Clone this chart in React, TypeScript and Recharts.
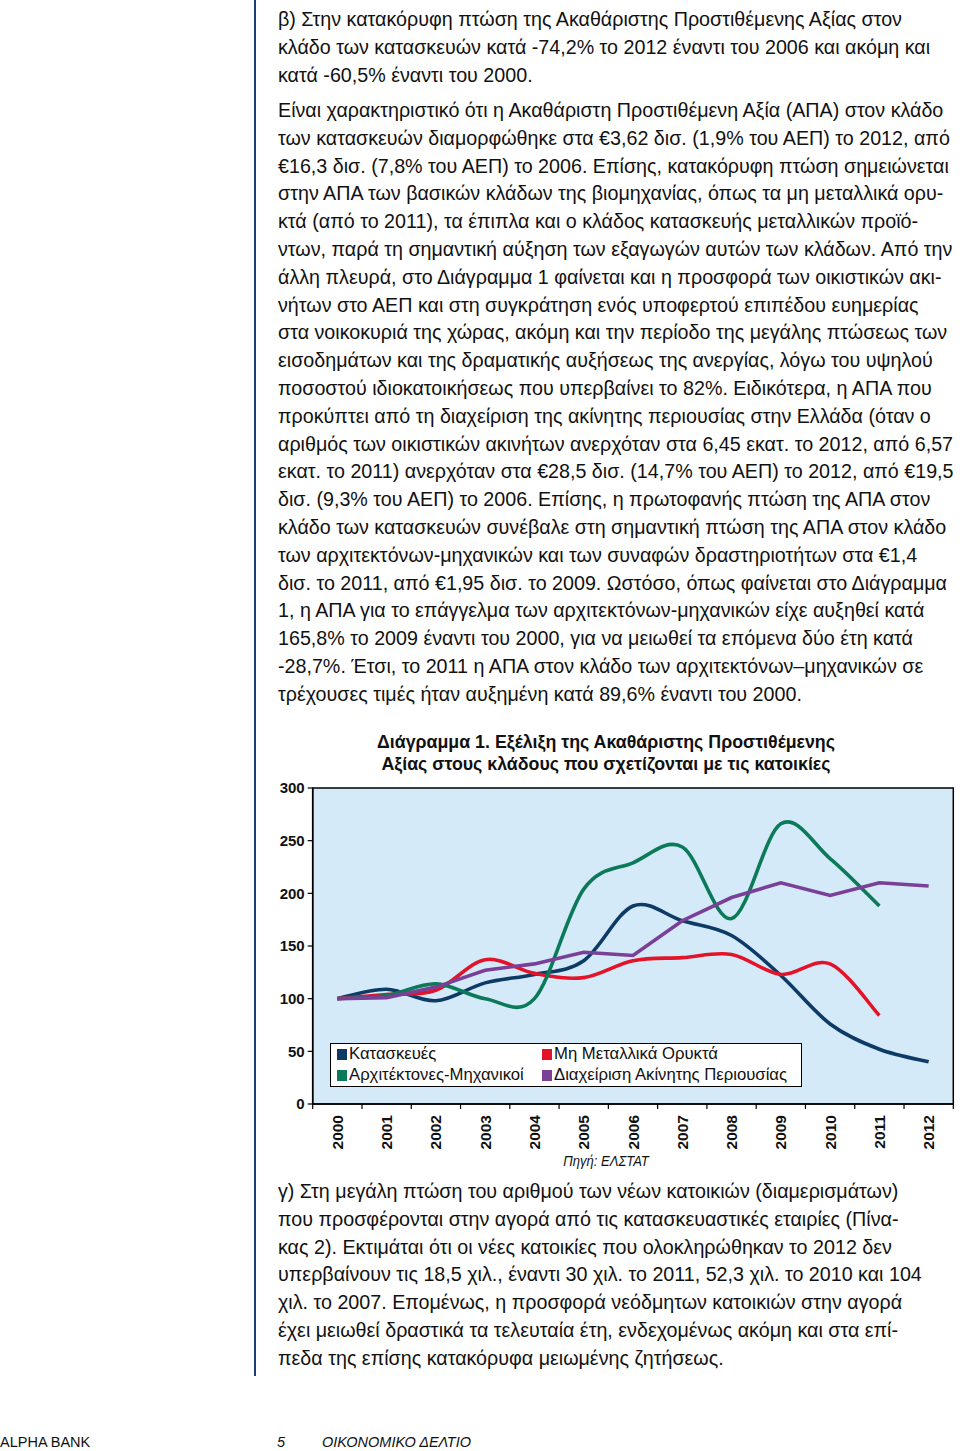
import React from 'react';
import { LineChart, Line, XAxis, YAxis, CartesianGrid, ReferenceArea, Legend } from 'recharts';

// ---------- chart data ----------
const years = ['2000', '2001', '2002', '2003', '2004', '2005', '2006', '2007', '2008', '2009', '2010', '2011', '2012'];
const construction = [100, 109, 98, 115, 123, 136, 188, 174, 160, 122, 76, 52, 40];
const nonMetallic = [100, 104, 108, 137, 124, 120, 136, 139, 142, 123, 133, 84, null];
const architects = [100, 103, 114, 100, 100, 204, 229, 244, 176, 266, 233, 188, null];
const realEstate = [100, 101, 111, 127, 133, 144, 141, 174, 196, 210, 198, 210, 207];
const yTicks = [0, 50, 100, 150, 200, 250, 300];
const seriesNames = ['Κατασκευές', 'Μη Μεταλλικά Ορυκτά', 'Αρχιτέκτονες-Μηχανικοί', 'Διαχείριση Ακίνητης Περιουσίας'];
const seriesKeys = ['kat', 'mm', 'arx', 'dia'];
const seriesColors = ['#0d3b66', '#e3142a', '#0b7a58', '#7a3f96'];

const chartTitle = ['Διάγραμμα 1. Εξέλιξη της Ακαθάριστης Προστιθέμενης', 'Αξίας στους κλάδους που σχετίζονται με τις κατοικίες'];
const sourceText = 'Πηγή: ΕΛΣΤΑΤ';

// ---------- page text ----------
const para1 = [
  'β) Στην κατακόρυφη πτώση της Ακαθάριστης Προστιθέμενης Αξίας στον',
  'κλάδο των κατασκευών κατά -74,2% το 2012 έναντι του 2006 και ακόμη και',
  'κατά -60,5% έναντι του 2000.',
];
const para2 = [
  'Είναι χαρακτηριστικό ότι η Ακαθάριστη Προστιθέμενη Αξία (ΑΠΑ) στον κλάδο',
  'των κατασκευών διαμορφώθηκε στα €3,62 δισ. (1,9% του ΑΕΠ) το 2012, από',
  '€16,3 δισ. (7,8% του ΑΕΠ) το 2006. Επίσης, κατακόρυφη πτώση σημειώνεται',
  'στην ΑΠΑ των βασικών κλάδων της βιομηχανίας, όπως τα μη μεταλλικά ορυ-',
  'κτά (από το 2011), τα έπιπλα και ο κλάδος κατασκευής μεταλλικών προϊό-',
  'ντων, παρά τη σημαντική αύξηση των εξαγωγών αυτών των κλάδων. Από την',
  'άλλη πλευρά, στο Διάγραμμα 1 φαίνεται και η προσφορά των οικιστικών ακι-',
  'νήτων στο ΑΕΠ και στη συγκράτηση ενός υποφερτού επιπέδου ευημερίας',
  'στα νοικοκυριά της χώρας, ακόμη και την περίοδο της μεγάλης πτώσεως των',
  'εισοδημάτων και της δραματικής αυξήσεως της ανεργίας, λόγω του υψηλού',
  'ποσοστού ιδιοκατοικήσεως που υπερβαίνει το 82%. Ειδικότερα, η ΑΠΑ που',
  'προκύπτει από τη διαχείριση της ακίνητης περιουσίας στην Ελλάδα (όταν ο',
  'αριθμός των οικιστικών ακινήτων ανερχόταν στα 6,45 εκατ. το 2012, από 6,57',
  'εκατ. το 2011) ανερχόταν στα €28,5 δισ. (14,7% του ΑΕΠ) το 2012, από €19,5',
  'δισ. (9,3% του ΑΕΠ) το 2006. Επίσης, η πρωτοφανής πτώση της ΑΠΑ στον',
  'κλάδο των κατασκευών συνέβαλε στη σημαντική πτώση της ΑΠΑ στον κλάδο',
  'των αρχιτεκτόνων-μηχανικών και των συναφών δραστηριοτήτων στα €1,4',
  'δισ. το 2011, από €1,95 δισ. το 2009. Ωστόσο, όπως φαίνεται στο Διάγραμμα',
  '1, η ΑΠΑ για το επάγγελμα των αρχιτεκτόνων-μηχανικών είχε αυξηθεί κατά',
  '165,8% το 2009 έναντι του 2000, για να μειωθεί τα επόμενα δύο έτη κατά',
  '-28,7%. Έτσι, το 2011 η ΑΠΑ στον κλάδο των αρχιτεκτόνων–μηχανικών σε',
  'τρέχουσες τιμές ήταν αυξημένη κατά 89,6% έναντι του 2000.',
];
const para3 = [
  'γ) Στη μεγάλη πτώση του αριθμού των νέων κατοικιών (διαμερισμάτων)',
  'που προσφέρονται στην αγορά από τις κατασκευαστικές εταιρίες (Πίνα-',
  'κας 2). Εκτιμάται ότι οι νέες κατοικίες που ολοκληρώθηκαν το 2012 δεν',
  'υπερβαίνουν τις 18,5 χιλ., έναντι 30 χιλ. το 2011, 52,3 χιλ. το 2010 και 104',
  'χιλ. το 2007. Επομένως, η προσφορά νεόδμητων κατοικιών στην αγορά',
  'έχει μειωθεί δραστικά τα τελευταία έτη, ενδεχομένως ακόμη και στα επί-',
  'πεδα της επίσης κατακόρυφα μειωμένης ζητήσεως.',
];

const seriesValues = [construction, nonMetallic, architects, realEstate];
const data = years.map((year, i) => {
  const row: any = { i, year };
  seriesKeys.forEach((k, s) => { row[k] = seriesValues[s][i]; });
  return row;
});
const xTicks: number[] = [];
years.forEach((_, i) => { xTicks.push(i - 0.5, i); });
xTicks.push(years.length - 0.5);

// Excel-like smoothed line (uniform Catmull-Rom)
function smoothCurve(context: any) {
  let pts: number[][] = [];
  return {
    areaStart() {},
    areaEnd() {},
    lineStart() { pts = []; },
    point(x: number, y: number) { pts.push([+x, +y]); },
    lineEnd() {
      const n = pts.length;
      if (!n) return;
      context.moveTo(pts[0][0], pts[0][1]);
      if (n === 1) return;
      for (let i = 0; i < n - 1; i++) {
        const p0 = pts[Math.max(i - 1, 0)];
        const p1 = pts[i];
        const p2 = pts[i + 1];
        const p3 = pts[Math.min(i + 2, n - 1)];
        context.bezierCurveTo(
          p1[0] + (p2[0] - p0[0]) / 6, p1[1] + (p2[1] - p0[1]) / 6,
          p2[0] - (p3[0] - p1[0]) / 6, p2[1] - (p3[1] - p1[1]) / 6,
          p2[0], p2[1]
        );
      }
    },
  };
}
const seriesCurves: any[] = [smoothCurve, smoothCurve, smoothCurve, 'linear'];

const SANS = '"Liberation Sans", Arial, Helvetica, sans-serif';

const XTick = (props: any) => {
  const { x, y, payload } = props;
  const v = payload.value;
  if (!Number.isInteger(v)) {
    return <line x1={x} x2={x} y1={y} y2={y + 5} stroke="#000" strokeWidth={1.2} />;
  }
  const tx = x + 5.5;
  const ty = y + 11;
  return (
    <text x={tx} y={ty} transform={`rotate(-90 ${tx} ${ty})`} textAnchor="end" fontSize={15.5} fontWeight="bold" fontFamily={SANS} fill="#111">
      {years[v]}
    </text>
  );
};

const LegendBox = (props: any) => {
  const payload: any[] = props.payload || [];
  return (
    <div style={{ width: 472, height: 44, boxSizing: 'border-box', border: '1.5px solid #000', background: '#fff', position: 'relative', fontFamily: SANS, fontSize: 16.7, color: '#111' }}>
      {seriesKeys.map((k, idx) => {
        const p = payload.find((e) => e.dataKey === k);
        const col = idx % 2;
        const row = Math.floor(idx / 2);
        return (
          <div key={k} style={{ position: 'absolute', left: col ? 211 : 6, top: row ? 21 : 0, height: 20, display: 'flex', alignItems: 'center', whiteSpace: 'nowrap' }}>
            <span style={{ display: 'inline-block', width: 10, height: 11, background: p ? p.color : seriesColors[idx], marginRight: 2 }} />
            <span>{p ? p.value : seriesNames[idx]}</span>
          </div>
        );
      })}
    </div>
  );
};

const Paragraph = ({ lines, top }: { lines: string[]; top: number }) => (
  <div style={{ position: 'absolute', left: 278, top, width: 680, fontFamily: SANS, fontSize: 19.7, lineHeight: '27.8px', color: '#111' }}>
    {lines.map((l, i) => (
      <div key={i} style={{ whiteSpace: 'nowrap' }}>{l}</div>
    ))}
  </div>
);

export default function App() {
  return (
    <div style={{ position: 'absolute', left: 0, top: 0, width: 960, height: 1451, background: '#fff', overflow: 'hidden' }}>
      <div style={{ position: 'absolute', left: 254, top: 0, width: 2, height: 1376, background: '#1e3c78' }} />
      <Paragraph lines={para1} top={6} />
      <Paragraph lines={para2} top={97} />

      <div style={{ position: 'absolute', left: 300, top: 731, width: 612, textAlign: 'center', fontFamily: SANS, fontWeight: 'bold', fontSize: 17.8, lineHeight: '22px', color: '#111' }}>
        {chartTitle.map((t, i) => <div key={i}>{t}</div>)}
      </div>

      <div style={{ position: 'absolute', left: 260, top: 770 }}>
        <LineChart width={710} height={400} data={data} margin={{ top: 18, right: 16.7, bottom: 0, left: 0 }}>
          <CartesianGrid horizontal={false} vertical={false} fill="#d5eaf8" />
          <XAxis
            dataKey="i"
            type="number"
            domain={[-0.5, years.length - 0.5]}
            ticks={xTicks}
            interval={0}
            height={66}
            tickSize={0}
            tickMargin={0}
            tickLine={false}
            axisLine={{ stroke: '#000', strokeWidth: 1.5 }}
            tick={<XTick />}
          />
          <YAxis
            type="number"
            domain={[0, 300]}
            ticks={yTicks}
            interval={0}
            width={52.7}
            tickSize={5}
            tickMargin={3}
            axisLine={{ stroke: '#000', strokeWidth: 1.5 }}
            tickLine={{ stroke: '#000', strokeWidth: 1.2 }}
            tick={{ fill: '#111', fontSize: 15, fontWeight: 'bold', fontFamily: SANS }}
          />
          <ReferenceArea x1={-0.5} x2={years.length - 0.5} y1={0} y2={300} fill="none" stroke="#000" strokeWidth={1.5} />
          {seriesKeys.map((k, idx) => (
            <Line
              key={k}
              dataKey={k}
              name={seriesNames[idx]}
              type={seriesCurves[idx]}
              stroke={seriesColors[idx]}
              strokeWidth={3.6}
              dot={false}
              activeDot={false}
              isAnimationActive={false}
              connectNulls={false}
            />
          ))}
          <Legend
            layout="horizontal"
            verticalAlign="middle"
            align="center"
            wrapperStyle={{ left: 70, top: 273, width: 472, height: 44 }}
            content={<LegendBox />}
          />
        </LineChart>
      </div>

      <div style={{ position: 'absolute', left: 506, top: 1153, width: 200, textAlign: 'center', fontFamily: SANS, fontStyle: 'italic', fontSize: 14.5, color: '#111', transform: 'scaleX(0.9)' }}>
        {sourceText}
      </div>

      <Paragraph lines={para3} top={1178} />

      <div style={{ position: 'absolute', left: 0, top: 1434, fontFamily: SANS, fontSize: 14.5, color: '#111' }}>ALPHA BANK</div>
      <div style={{ position: 'absolute', left: 277, top: 1434, fontFamily: SANS, fontStyle: 'italic', fontSize: 14.5, color: '#111' }}>5</div>
      <div style={{ position: 'absolute', left: 322, top: 1434, fontFamily: SANS, fontStyle: 'italic', fontSize: 14.5, color: '#111' }}>ΟΙΚΟΝΟΜΙΚΟ ΔΕΛΤΙΟ</div>
    </div>
  );
}
